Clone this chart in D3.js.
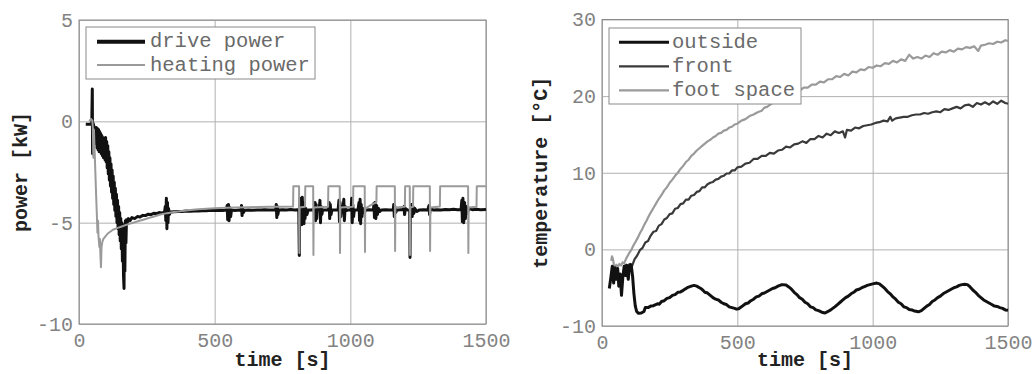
<!DOCTYPE html>
<html>
<head>
<meta charset="utf-8">
<script src="https://cdn.jsdelivr.net/npm/d3@7"></script>
<style>
html, body { margin: 0; padding: 0; background: #fff; }
svg { display: block; }
</style>
</head>
<body>
<svg id="chart" width="1035" height="374"></svg>
<script>
// ---- axis ticks and series names ----
const timeTicks = [0, 500, 1000, 1500];
const powerTicks = [-10, -5, 0, 5];
const tempTicks = [-10, 0, 10, 20, 30];
const powerNames = ["drive power", "heating power"];
const tempNames = ["outside", "front", "foot space"];

// ---- power [kW] over time [s] ----
const drivePower = [
  [25,-0.15],[47,-0.15],[49,1.6],[50,-1.6],[52,-0.1],[55,-0.25],
  [58,-0.9],[60,-0.3],[62,-1.1],[64,-0.3],[66,-1.3],[68,-0.35],[70,-1.4],[72,-0.4],[74,-1.5],[76,-0.5],
  [78,-1.4],[80,-0.6],[82,-1.6],[84,-0.7],[86,-1.7],[88,-0.8],[90,-1.8],[93,-0.9],[96,-1.9],[98,-0.8],
  [100,-2.0],[102,-1.0],[104,-2.3],[106,-1.2],[108,-2.6],[110,-1.5],[112,-2.9],[114,-1.8],[116,-3.2],
  [118,-2.1],[120,-3.5],[122,-2.4],[124,-3.8],[126,-2.7],[128,-4.1],[130,-3.0],[132,-4.4],[134,-3.3],
  [136,-4.7],[138,-3.6],[140,-5.0],[142,-3.9],[144,-5.3],[146,-4.2],[148,-5.6],[150,-4.5],[152,-5.9],
  [154,-4.8],[156,-6.3],[158,-5.0],[160,-6.9],[162,-5.2],[164,-7.6],[166,-8.25],[167,-5.1],[169,-7.4],
  [171,-4.9],[173,-6.0],[175,-4.85],[178,-5.0],[182,-4.8],[188,-4.9],[195,-4.75],[205,-4.8],[215,-4.7],
  [225,-4.72],[235,-4.64],[245,-4.65],[255,-4.58],[265,-4.6],[275,-4.54],[285,-4.55],[295,-4.5],[305,-4.52],
  [315,-4.48],[318,-4.2],[320,-4.9],[322,-3.8],[324,-5.3],[326,-4.0],[328,-5.0],[330,-4.3],[333,-4.6],
  [338,-4.47],[350,-4.46],[365,-4.45],[380,-4.45],[395,-4.43],[410,-4.44],[425,-4.42],[440,-4.42],
  [455,-4.41],[470,-4.41],[485,-4.39],[500,-4.4],[515,-4.39],[530,-4.4],[543,-4.38],[546,-4.15],[548,-4.85],
  [551,-4.1],[553,-4.9],[556,-4.25],[559,-4.7],[562,-4.38],[575,-4.4],[590,-4.38],[597,-4.4],[599,-4.15],
  [601,-4.65],[603,-4.3],[606,-4.5],[610,-4.39],[625,-4.38],[640,-4.39],[655,-4.37],[670,-4.38],[685,-4.36],
  [700,-4.38],[715,-4.37],[725,-4.36],[727,-4.1],[729,-4.75],[731,-4.2],[733,-4.6],[736,-4.37],[750,-4.36],
  [765,-4.38],[780,-4.35],[795,-4.37],[805,-4.36],[810,-4.4],[812,-6.62],[813,-4.4],[815,-3.8],[817,-5.0],
  [819,-3.9],[821,-5.1],[823,-3.75],[825,-4.9],[827,-4.0],[829,-5.05],[831,-4.1],[833,-4.8],[836,-4.3],
  [840,-4.6],[845,-4.37],[855,-4.38],[860,-4.36],[868,-4.37],[870,-4.0],[872,-4.9],[874,-4.1],[876,-4.8],
  [878,-4.3],[885,-4.37],[888,-3.9],[890,-5.0],[892,-4.2],[895,-4.6],[898,-4.37],[910,-4.38],[920,-4.36],
  [922,-4.0],[924,-4.8],[926,-4.1],[929,-4.6],[932,-4.37],[945,-4.38],[955,-4.37],[958,-3.9],[960,-4.95],
  [962,-4.0],[965,-4.7],[968,-4.2],[972,-4.5],[976,-3.85],[978,-4.9],[981,-4.2],[985,-4.4],[995,-4.37],
  [1003,-4.36],[1005,-3.8],[1007,-5.0],[1009,-4.1],[1012,-4.7],[1015,-4.37],[1028,-4.38],[1032,-4.0],
  [1034,-4.9],[1036,-3.85],[1038,-5.05],[1040,-4.1],[1043,-4.7],[1046,-4.3],[1052,-4.5],[1056,-4.37],
  [1070,-4.36],[1085,-4.37],[1087,-4.05],[1089,-4.75],[1091,-4.0],[1094,-4.8],[1097,-4.15],[1100,-4.6],
  [1104,-4.3],[1108,-4.45],[1115,-4.37],[1130,-4.36],[1145,-4.37],[1158,-4.38],[1160,-4.1],[1162,-4.7],
  [1164,-4.2],[1167,-4.5],[1172,-4.37],[1185,-4.36],[1195,-4.35],[1198,-4.2],[1200,-4.6],[1203,-4.3],
  [1210,-4.37],[1219,-4.4],[1220,-6.72],[1221,-4.4],[1225,-4.1],[1228,-4.7],[1231,-4.2],[1234,-4.55],
  [1238,-4.3],[1245,-4.45],[1255,-4.37],[1270,-4.36],[1285,-4.38],[1290,-4.15],[1292,-4.6],[1295,-4.3],
  [1305,-4.37],[1320,-4.36],[1335,-4.37],[1350,-4.35],[1365,-4.36],[1380,-4.34],[1395,-4.36],[1408,-4.35],
  [1411,-3.9],[1413,-4.95],[1415,-3.8],[1418,-5.0],[1421,-4.0],[1424,-4.8],[1427,-4.2],[1431,-4.55],
  [1436,-4.3],[1450,-4.36],[1465,-4.34],[1480,-4.36],[1500,-4.35]
];

const heatingPower = [
  [38,0.0],[44,0.12],[49,0.05],[51,-0.3],[53,-1.8],[55,-0.4],[57,-1.2],[60,-2.4],[63,-3.6],[66,-4.7],
  [68,-5.5],[70,-4.9],[72,-5.7],[75,-6.2],[77,-5.8],[79,-6.6],[81,-7.2],[83,-6.2],[86,-5.95],[90,-5.8],
  [96,-5.7],[105,-5.55],[115,-5.45],[125,-5.35],[140,-5.27],[155,-5.2],[170,-5.13],[185,-5.06],[200,-5.0],
  [220,-4.92],[240,-4.84],[260,-4.76],[280,-4.68],[300,-4.6],[325,-4.53],[350,-4.47],[380,-4.42],
  [410,-4.38],[440,-4.34],[470,-4.31],[500,-4.29],[540,-4.27],[580,-4.25],[620,-4.24],[660,-4.23],
  [700,-4.22],[740,-4.21],[789,-4.2],
  [790,-3.2],[811,-3.2],[812,-6.5],[813,-4.25],[833,-4.22],[834,-3.2],[863,-3.2],[864,-6.6],[865,-4.25],
  [918,-4.22],[919,-3.2],[961,-3.2],[962,-6.5],[963,-4.25],[1010,-4.22],[1011,-3.2],[1053,-3.2],[1054,-6.45],
  [1055,-4.3],[1065,-4.22],[1080,-4.1],[1096,-4.0],[1097,-3.2],[1164,-3.2],[1165,-6.4],[1166,-4.25],
  [1201,-4.22],[1202,-3.2],[1219,-3.2],[1220,-6.6],[1221,-4.25],[1231,-4.22],[1232,-3.2],[1293,-3.2],
  [1294,-6.4],[1295,-4.25],[1330,-4.2],[1331,-3.2],[1434,-3.2],[1435,-6.5],[1436,-4.25],[1465,-4.22],
  [1466,-3.2],[1500,-3.2]
];

// ---- temperature [°C] over time [s] ----
const outsideTemp = [
  [27,-5.1],[33,-3.6],[38,-2.2],[43,-4.4],[48,-2.4],[53,-3.9],[58,-2.5],[62,-4.8],[67,-3.2],[72,-6.0],
  [77,-3.6],[82,-2.2],[87,-3.4],[92,-2.1],[97,-3.9],[102,-2.0],[108,-2.1],[113,-3.5],[118,-5.8],[123,-7.4],
  [128,-8.1],[135,-8.35],[145,-8.3],[155,-8.1],[160,-7.6],[170,-7.6],[180,-7.4],[190,-7.35],[205,-7.1],
  [212,-7.15],[220,-6.8],[230,-6.7],[240,-6.4],[250,-6.3],[260,-6.0],[270,-5.9],[280,-5.6],[290,-5.55],
  [300,-5.35],[315,-5.0],[330,-4.8],[340,-4.7],[350,-4.8],[365,-5.1],[372,-5.3],[380,-5.6],[390,-5.7],
  [400,-6.0],[410,-6.3],[420,-6.5],[430,-6.6],[440,-6.9],[450,-7.1],[460,-7.2],[470,-7.5],[480,-7.6],
  [490,-7.7],[497,-7.8],[505,-7.75],[515,-7.5],[530,-7.1],[540,-7.0],[550,-6.7],[560,-6.5],[570,-6.2],
  [580,-6.1],[590,-5.8],[600,-5.7],[610,-5.5],[620,-5.3],[630,-5.1],[640,-5.0],[650,-4.8],[665,-4.6],
  [680,-4.65],[690,-4.9],[700,-5.2],[710,-5.6],[720,-5.9],[730,-6.3],[740,-6.5],[750,-6.9],[760,-7.1],
  [770,-7.5],[780,-7.6],[790,-7.9],[800,-8.0],[812,-8.2],[824,-8.3],[835,-8.1],[845,-7.9],[860,-7.5],
  [870,-7.2],[880,-6.9],[890,-6.6],[900,-6.3],[910,-6.1],[920,-5.8],[930,-5.6],[940,-5.3],[950,-5.2],
  [960,-5.0],[970,-4.85],[980,-4.7],[990,-4.6],[1000,-4.5],[1015,-4.4],[1025,-4.5],[1035,-4.8],[1045,-5.1],
  [1055,-5.5],[1065,-5.8],[1075,-6.2],[1085,-6.5],[1095,-6.9],[1105,-7.1],[1115,-7.5],[1125,-7.6],
  [1135,-7.85],[1145,-7.9],[1155,-8.05],[1169,-8.15],[1180,-8.0],[1190,-7.7],[1200,-7.4],[1210,-7.2],
  [1220,-6.8],[1230,-6.6],[1240,-6.3],[1250,-6.1],[1260,-5.8],[1270,-5.6],[1280,-5.4],[1290,-5.2],
  [1300,-5.0],[1310,-4.9],[1320,-4.7],[1330,-4.6],[1340,-4.55],[1350,-4.6],[1360,-4.9],[1370,-5.3],
  [1380,-5.6],[1390,-6.0],[1400,-6.3],[1410,-6.6],[1420,-6.8],[1430,-7.0],[1440,-7.2],[1450,-7.4],
  [1460,-7.45],[1470,-7.6],[1480,-7.7],[1490,-7.9],[1500,-7.95]
];

const frontTemp = [
  [82,-2.2],[90,-2.0],[98,-2.3],[106,-1.9],[112,-2.1],[120,-1.3],[130,-0.8],[140,-0.1],[150,0.2],[160,0.9],
  [170,1.1],[180,1.8],[190,2.3],[200,2.4],[210,3.1],[220,3.3],[230,3.9],[240,4.1],[250,4.6],[260,4.7],
  [270,5.3],[280,5.4],[290,5.9],[300,6.0],[310,6.5],[320,6.5],[330,7.0],[340,7.1],[350,7.5],[360,7.6],
  [370,8.1],[380,8.1],[390,8.5],[400,8.7],[410,8.8],[420,9.1],[430,9.2],[440,9.5],[450,9.6],[460,9.9],
  [470,9.9],[480,10.3],[490,10.3],[500,10.7],[515,10.8],[530,11.2],[545,11.3],[560,11.8],[575,11.8],
  [590,12.2],[605,12.2],[620,12.6],[635,12.5],[650,12.9],[665,13.0],[680,13.4],[695,13.3],[710,13.7],
  [725,13.8],[740,14.1],[755,13.9],[770,14.4],[785,14.4],[800,14.8],[815,14.6],[830,15.1],[845,14.9],
  [860,15.4],[875,15.2],[890,15.4],[898,14.6],[905,15.6],[920,15.5],[935,15.9],[950,15.8],[965,16.1],
  [980,16.2],[995,16.3],[1010,16.5],[1025,16.6],[1040,16.8],[1055,16.7],[1065,17.3],[1072,16.8],[1085,17.1],
  [1100,17.2],[1115,17.3],[1130,17.3],[1145,17.5],[1160,17.6],[1175,17.6],[1190,17.8],[1205,17.7],
  [1220,17.9],[1235,18.0],[1250,17.9],[1265,18.3],[1280,18.2],[1295,18.4],[1310,18.6],[1325,18.4],
  [1340,18.8],[1355,18.9],[1370,18.6],[1385,19.1],[1400,18.9],[1415,19.2],[1430,18.9],[1445,19.3],
  [1460,19.0],[1475,19.4],[1490,19.1],[1500,19.0]
];

const footTemp = [
  [34,-1.5],[37,-0.9],[40,-1.2],[44,-2.0],[48,-2.5],[53,-2.0],[58,-2.3],[64,-1.9],[70,-2.1],[76,-1.7],
  [82,-1.8],[88,-1.3],[94,-0.9],[100,-0.5],[108,-0.1],[116,0.5],[124,1.0],[132,1.5],[140,2.1],[148,2.6],
  [156,3.2],[164,3.7],[172,4.3],[180,4.8],[190,5.4],[200,6.0],[210,6.6],[220,7.1],[230,7.7],[240,8.1],
  [250,8.7],[260,9.1],[270,9.6],[280,10.0],[290,10.5],[300,10.9],[310,11.4],[320,11.7],[330,12.2],
  [340,12.5],[350,12.9],[360,13.2],[370,13.5],[380,13.8],[390,14.1],[400,14.3],[410,14.6],[420,14.8],
  [430,15.1],[440,15.2],[450,15.5],[460,15.6],[470,15.9],[480,16.0],[490,16.3],[500,16.4],[515,16.8],
  [530,17.0],[545,17.4],[560,17.6],[575,17.9],[590,18.1],[600,18.5],[610,18.6],[625,19.0],[640,19.2],
  [655,19.6],[670,19.7],[685,20.1],[700,20.2],[715,20.6],[730,20.7],[745,21.1],[760,21.1],[775,21.5],
  [790,21.5],[805,21.9],[820,21.8],[835,22.2],[850,22.2],[865,22.6],[880,22.5],[895,22.9],[910,22.7],
  [925,23.2],[940,23.1],[955,23.5],[970,23.4],[985,23.8],[1000,23.7],[1015,24.0],[1030,23.9],[1045,24.3],
  [1060,24.2],[1075,24.6],[1090,24.4],[1105,24.8],[1120,24.6],[1135,25.4],[1150,24.9],[1165,25.1],
  [1180,24.9],[1195,25.3],[1210,25.1],[1225,25.6],[1240,25.4],[1255,25.8],[1270,25.7],[1285,26.0],
  [1300,25.8],[1315,26.2],[1330,26.1],[1345,26.4],[1360,26.3],[1375,26.5],[1390,25.9],[1400,26.6],
  [1415,26.7],[1430,26.9],[1445,26.8],[1460,27.1],[1475,27.0],[1490,27.3],[1500,27.2]
];

// ---- drawing ----
const MONO = '"Liberation Mono", "DejaVu Sans Mono", monospace';
const svg = d3.select("#chart");

function drawPanel(cfg) {
  const x = d3.scaleLinear().domain([0, 1500]).range([cfg.left, cfg.right]);
  const y = d3.scaleLinear().domain(cfg.yDomain).range([cfg.bottom, cfg.top]);
  const h = cfg.bottom - cfg.top, w = cfg.right - cfg.left;
  const g = svg.append("g");

  // grid lines
  g.append("g")
    .attr("transform", `translate(0,${cfg.bottom})`)
    .call(d3.axisBottom(x).tickValues(timeTicks).tickSize(-h).tickFormat(""))
    .call(s => s.select(".domain").remove())
    .selectAll("line").attr("stroke", "#b0b0b0").attr("stroke-width", 1);
  g.append("g")
    .attr("transform", `translate(${cfg.left},0)`)
    .call(d3.axisLeft(y).tickValues(cfg.yTicks).tickSize(-w).tickFormat(""))
    .call(s => s.select(".domain").remove())
    .selectAll("line").attr("stroke", "#b0b0b0").attr("stroke-width", 1);

  // plot frame
  g.append("rect")
    .attr("x", cfg.left).attr("y", cfg.top).attr("width", w).attr("height", h)
    .attr("fill", "none").attr("stroke", "#8a8a8a").attr("stroke-width", 1);

  // tick labels
  const xa = g.append("g")
    .attr("transform", `translate(0,${cfg.bottom})`)
    .call(d3.axisBottom(x).tickValues(timeTicks).tickSize(0).tickPadding(9).tickFormat(d => String(d)));
  xa.select(".domain").remove();
  xa.selectAll("text").attr("font-family", MONO).attr("font-size", 20).attr("fill", "#828282");

  const ya = g.append("g")
    .attr("transform", `translate(${cfg.left},0)`)
    .call(d3.axisLeft(y).tickValues(cfg.yTicks).tickSize(0).tickPadding(6).tickFormat(d => String(d)));
  ya.select(".domain").remove();
  ya.selectAll("text").attr("font-family", MONO).attr("font-size", 20).attr("fill", "#828282");

  // axis titles
  g.append("text")
    .attr("x", (cfg.left + cfg.right) / 2).attr("y", 366)
    .attr("text-anchor", "middle")
    .attr("font-family", MONO).attr("font-size", 20).attr("font-weight", "bold").attr("fill", "#222")
    .text("time [s]");
  g.append("text")
    .attr("transform", `translate(${cfg.yTitleX},${(cfg.top + cfg.bottom) / 2}) rotate(-90)`)
    .attr("text-anchor", "middle")
    .attr("font-family", MONO).attr("font-size", 20).attr("font-weight", "bold").attr("fill", "#222")
    .text(cfg.yTitle);

  // series
  const line = d3.line().x(d => x(d[0])).y(d => y(d[1]));
  cfg.series.forEach(s => {
    g.append("path")
      .datum(s.data)
      .attr("d", line)
      .attr("fill", "none")
      .attr("stroke", s.color)
      .attr("stroke-width", s.width)
      .attr("stroke-linejoin", "round")
      .attr("stroke-linecap", "butt");
  });

  // legend
  const L = cfg.legend;
  g.append("rect")
    .attr("x", L.x).attr("y", L.y).attr("width", L.w).attr("height", L.h)
    .attr("fill", "#fff").attr("stroke", "#8a8a8a").attr("stroke-width", 1);
  L.items.forEach((it, i) => {
    const ry = L.firstRow + i * L.rowStep;
    g.append("line")
      .attr("x1", L.lineX0).attr("x2", L.lineX1).attr("y1", ry).attr("y2", ry)
      .attr("stroke", it.color).attr("stroke-width", it.width);
    g.append("text")
      .attr("x", L.textX).attr("y", ry + 5.5)
      .attr("font-family", MONO).attr("font-size", 20.5).attr("fill", "#6a6a6a")
      .text(it.name);
  });
}

drawPanel({
  left: 79, right: 486, top: 20, bottom: 324,
  yDomain: [-10, 5], yTicks: powerTicks,
  yTitle: "power [kW]", yTitleX: 27,
  series: [
    { data: drivePower, color: "#111", width: 3 },
    { data: heatingPower, color: "#9a9a9a", width: 2 }
  ],
  legend: {
    x: 86, y: 27, w: 229, h: 52,
    lineX0: 97, lineX1: 145, textX: 150, firstRow: 41.7, rowStep: 23.3,
    items: [
      { name: powerNames[0], color: "#111", width: 4 },
      { name: powerNames[1], color: "#9a9a9a", width: 2 }
    ]
  }
});

drawPanel({
  left: 602, right: 1008, top: 19.5, bottom: 326,
  yDomain: [-10, 30], yTicks: tempTicks,
  yTitle: "temperature [°C]", yTitleX: 547,
  series: [
    { data: footTemp, color: "#9a9a9a", width: 2.2 },
    { data: frontTemp, color: "#3a3a3a", width: 2.2 },
    { data: outsideTemp, color: "#111", width: 3 }
  ],
  legend: {
    x: 609, y: 28, w: 192, h: 76,
    lineX0: 619, lineX1: 669, textX: 672, firstRow: 42.3, rowStep: 24,
    items: [
      { name: tempNames[0], color: "#111", width: 3 },
      { name: tempNames[1], color: "#3a3a3a", width: 2.2 },
      { name: tempNames[2], color: "#9a9a9a", width: 2.2 }
    ]
  }
});
</script>
</body>
</html>
